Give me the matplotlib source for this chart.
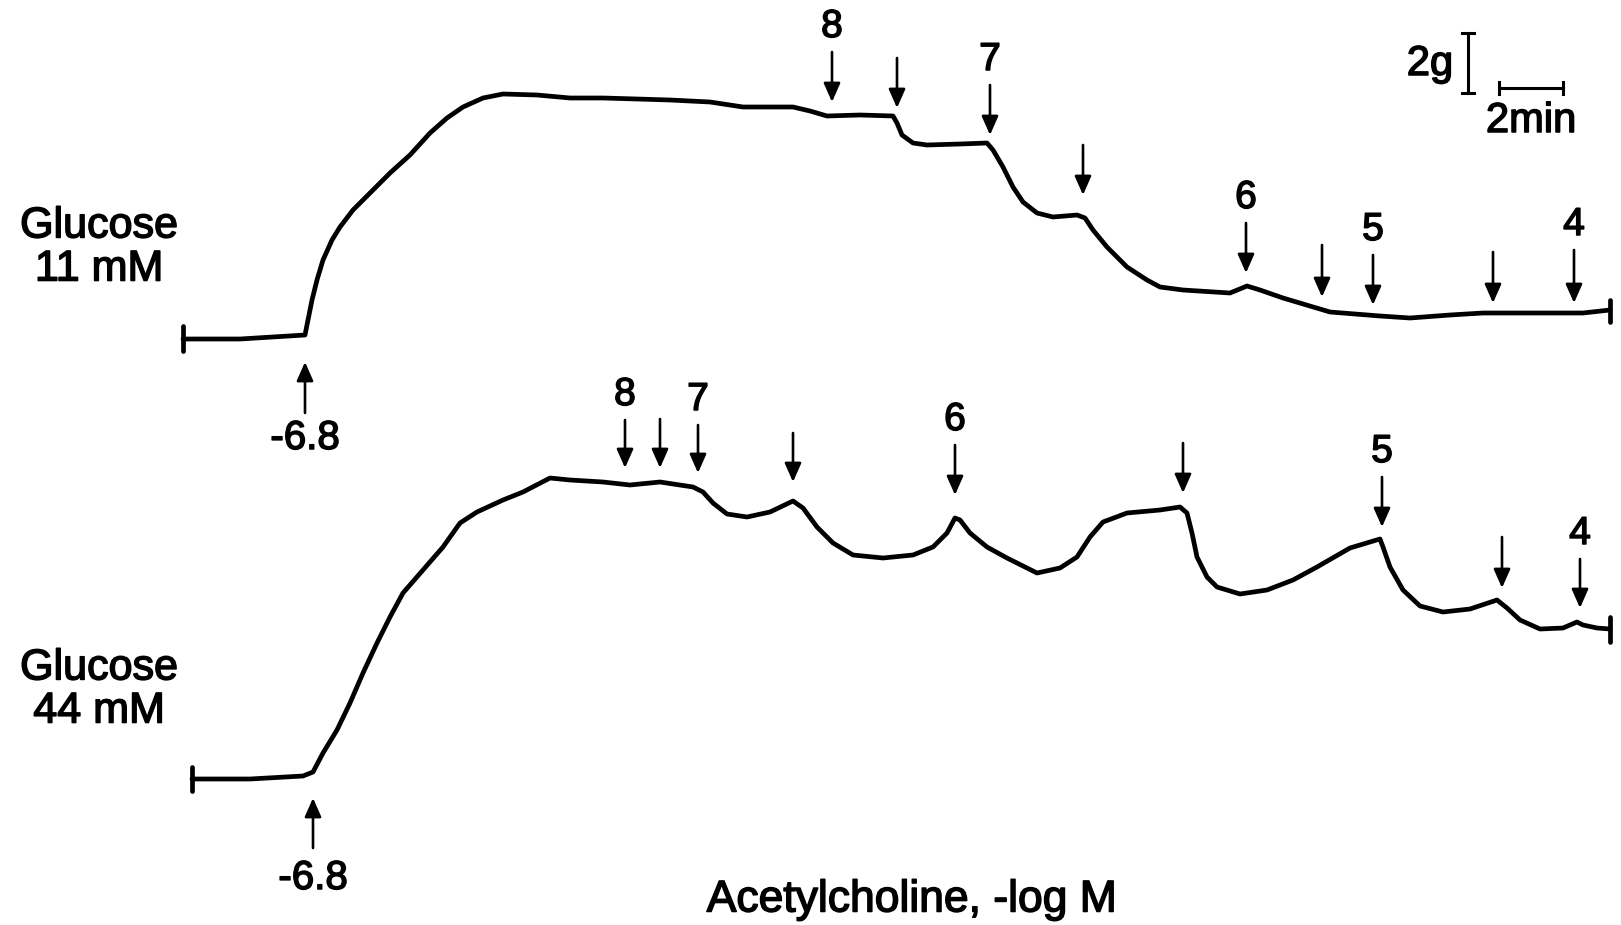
import matplotlib
matplotlib.use("Agg")
import matplotlib.pyplot as plt
import matplotlib.patheffects as pe

plt.rcParams['font.family'] = ['Liberation Sans', 'DejaVu Sans']

# ---- Trace data (x: chart time position, y: tension position, in image units) ----
top_x = [183, 240, 305, 308, 312, 317, 323, 332, 340, 353, 370, 390, 410, 430, 447, 463,
         483, 503, 537, 570, 603, 637, 670, 710, 743, 793, 810, 827, 860, 893, 897, 902,
         913, 927, 960, 987, 993, 1003, 1013, 1023, 1037, 1053, 1077, 1085, 1093, 1107,
         1127, 1147, 1160, 1183, 1230, 1247, 1260, 1283, 1330, 1380, 1410, 1450, 1483,
         1583, 1610]
top_y = [339, 339, 335, 320, 300, 280, 260, 240, 227, 210, 193, 173, 155, 133, 118, 107,
         98, 94, 95, 98, 98, 99, 100, 102, 107, 107, 111, 116, 115, 116, 123, 135,
         143, 145, 144, 143, 150, 167, 187, 202, 213, 217, 215, 218, 230, 247,
         267, 280, 287, 290, 293, 286, 290, 298, 312, 316, 318, 315, 313,
         313, 310]

bot_x = [192, 250, 303, 313, 323, 337, 350, 363, 377, 390, 403, 423, 443, 460, 477, 503,
         523, 550, 570, 603, 630, 660, 693, 703, 713, 727, 747, 770, 793, 803, 817, 833,
         853, 883, 913, 933, 947, 955, 960, 970, 987, 1007, 1037, 1060, 1077, 1090, 1103,
         1127, 1160, 1180, 1187, 1192, 1197, 1207, 1217, 1240, 1267, 1293, 1317, 1350,
         1380, 1383, 1390, 1403, 1420, 1443, 1470, 1497, 1507, 1520, 1540, 1563, 1577,
         1583, 1597, 1610]
bot_y = [779, 779, 776, 772, 753, 730, 703, 673, 643, 617, 593, 570, 547, 523, 512, 500,
         492, 478, 480, 482, 485, 482, 487, 492, 503, 514, 517, 512, 501, 508, 527, 543,
         555, 558, 555, 547, 533, 518, 520, 533, 547, 558, 573, 568, 557, 537, 522,
         513, 510, 507, 513, 533, 557, 577, 587, 594, 590, 580, 567, 548,
         539, 547, 567, 590, 606, 612, 609, 600, 608, 620, 629, 628, 622,
         625, 628, 629]

# ---- Drug-addition arrows ----
top_arrow_x = [832, 897, 990, 1083, 1246, 1322, 1373, 1493, 1574]
top_arrow_tail = [52, 58, 85, 145, 223, 245, 255, 252, 250]
top_arrow_tip = [102, 108, 135, 195, 273, 297, 305, 303, 303]
top_arrow_labels = ['8', '', '7', '', '6', '', '5', '', '4']

bot_arrow_x = [625, 660, 698, 793, 955, 1183, 1382, 1502, 1580]
bot_arrow_tail = [420, 419, 425, 433, 445, 443, 477, 537, 559]
bot_arrow_tip = [468, 468, 473, 482, 495, 493, 527, 588, 608]
bot_arrow_labels = ['8', '', '7', '', '6', '', '5', '', '4']

# Initial (-6.8) up arrows
up_arrow_x = [305, 313]
up_arrow_tip = [362, 798]
up_arrow_tail = [413, 848]
up_arrow_label = ['-6.8', '-6.8']
up_label_y = [438, 878]

group_labels = ['Glucose\n11 mM', 'Glucose\n44 mM']
group_label_y = [248, 690]

fig = plt.figure(figsize=(16.21, 9.25), dpi=100)
ax = fig.add_axes([0, 0, 1, 1])
ax.set_xlim(0, 1621)
ax.set_ylim(925, 0)
ax.axis('off')

heavy = [pe.withStroke(linewidth=1.1, foreground='black')]

lw_trace = 3.4
ax.plot(top_x, top_y, color='black', lw=lw_trace, solid_joinstyle='round', solid_capstyle='round')
ax.plot(bot_x, bot_y, color='black', lw=lw_trace, solid_joinstyle='round', solid_capstyle='round')

# end ticks of traces
for (x, y0, y1) in [(top_x[0], 326, 351), (top_x[-1], 300, 322),
                    (bot_x[0], 767, 791), (bot_x[-1], 617, 642)]:
    ax.plot([x, x], [y0, y1], color='black', lw=3.4, solid_capstyle='round')

arrow_style = dict(arrowstyle='-|>,head_length=0.95,head_width=0.42', mutation_scale=12,
                   lw=1.9, color='black', shrinkA=0, shrinkB=0)

def draw_down(xs, tails, tips, labels):
    for x, t0, t1, lab in zip(xs, tails, tips, labels):
        ax.annotate('', xy=(x, t1), xytext=(x, t0), arrowprops=arrow_style)
        if lab:
            ax.text(x, t0 - 25, lab, ha='center', va='center', fontsize=28, path_effects=heavy)

draw_down(top_arrow_x, top_arrow_tail, top_arrow_tip, top_arrow_labels)
draw_down(bot_arrow_x, bot_arrow_tail, bot_arrow_tip, bot_arrow_labels)

for x, tip, tail, lab, ly in zip(up_arrow_x, up_arrow_tip, up_arrow_tail, up_arrow_label, up_label_y):
    ax.annotate('', xy=(x, tip), xytext=(x, tail), arrowprops=arrow_style)
    ax.text(x, ly, lab, ha='center', va='center', fontsize=29, path_effects=heavy)

for lab, y in zip(group_labels, group_label_y):
    ax.text(99, y, lab, ha='center', va='center', fontsize=31, linespacing=1.1, path_effects=heavy)

# scale bars
ax.plot([1468, 1468], [33, 93], color='black', lw=2.2)
ax.plot([1462, 1474], [33, 33], color='black', lw=2.2)
ax.plot([1462, 1474], [93, 93], color='black', lw=2.2)
ax.text(1430, 64, '2g', ha='center', va='center', fontsize=30, path_effects=heavy)
ax.plot([1499, 1563], [88, 88], color='black', lw=2.2)
ax.plot([1499, 1499], [82, 94], color='black', lw=2.2)
ax.plot([1563, 1563], [82, 94], color='black', lw=2.2)
ax.text(1531, 121, '2min', ha='center', va='center', fontsize=30, path_effects=heavy)

ax.text(912, 900, 'Acetylcholine, -log M', ha='center', va='center', fontsize=32, path_effects=heavy)

fig.savefig('out.png', dpi=100, facecolor='white')
